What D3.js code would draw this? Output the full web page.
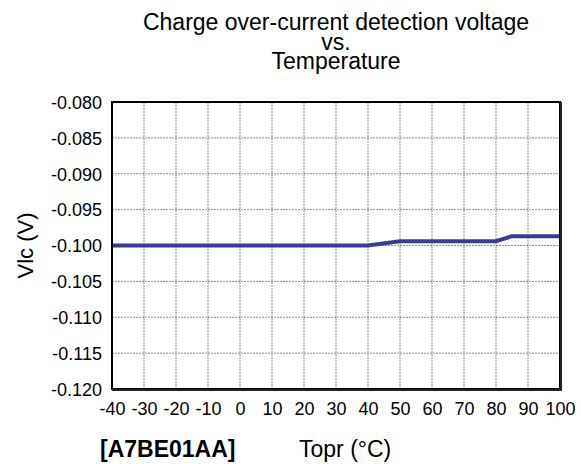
<!DOCTYPE html>
<html lang="en">
<head>
    <meta charset="utf-8">
    <script src="https://d3js.org/d3.v7.min.js"></script>
    <style>
        body { margin: 0; background: #fff; }
        text { font-family: "Liberation Sans", Arial, sans-serif; fill: #000; }
        .grid line { stroke: #8c8c8c; stroke-width: 1; stroke-dasharray: 2,1; }
    </style>
</head>
<body>
<svg width="581" height="464"></svg>
<script>

// data
var temps = [-40, -30, -20, -10, 0, 10, 20, 30, 40, 50, 60, 70, 80, 85, 90, 100];
var vlc   = [-0.1000, -0.1000, -0.1000, -0.1000, -0.1000, -0.1000, -0.1000, -0.1000, -0.1000,
             -0.0994, -0.0994, -0.0994, -0.0994, -0.0987, -0.0987, -0.0987];

var xTicks = [-40, -30, -20, -10, 0, 10, 20, 30, 40, 50, 60, 70, 80, 90, 100];
var yTicks = [-0.080, -0.085, -0.090, -0.095, -0.100, -0.105, -0.110, -0.115, -0.120];

var titleLines = ["Charge over-current detection voltage", "vs.", "Temperature"];

var svg = d3.select("svg"),
    margin = {left: 112, right: 21, top: 102, bottom: 75},
    width = +svg.attr("width") - margin.left - margin.right,
    height = +svg.attr("height") - margin.top - margin.bottom;

var x = d3.scaleLinear().domain([-40, 100]).range([0, width]);
var y = d3.scaleLinear().domain([-0.120, -0.080]).range([height, 0]);

// plain hyphen instead of d3's unicode minus
var fmtX = function(d) { return d3.format("d")(d).replace("\u2212", "-"); };
var fmtY = function(d) { return d3.format(".3f")(d).replace("\u2212", "-"); };

var g = svg.append("g").attr("transform", "translate(" + margin.left + "," + margin.top + ")");

// dashed grid
var grid = g.append("g").attr("class", "grid");
grid.selectAll(".vx").data(xTicks.slice(1, -1)).enter().append("line")
    .attr("x1", function(d) { return x(d); }).attr("x2", function(d) { return x(d); })
    .attr("y1", 0).attr("y2", height);
grid.selectAll(".hy").data(yTicks.slice(1, -1)).enter().append("line")
    .attr("x1", 0).attr("x2", width)
    .attr("y1", function(d) { return y(d); }).attr("y2", function(d) { return y(d); });

// the curve
var line = d3.line()
    .x(function(d, i) { return x(temps[i]); })
    .y(function(d) { return y(d); });

g.append("path")
    .datum(vlc)
    .attr("d", line)
    .attr("fill", "none")
    .attr("stroke", "#3a3a98")
    .attr("stroke-width", 4);

// frame, right/bottom edges a bit heavier
g.append("rect")
    .attr("width", width).attr("height", height)
    .attr("fill", "none").attr("stroke", "#000").attr("stroke-width", 2);
g.append("path")
    .attr("d", "M" + (width + 1) + ",0V" + (height + 1) + "H0")
    .attr("fill", "none").attr("stroke", "#222").attr("stroke-width", 2);

// axes (labels only, frame already drawn)
var xAxis = g.append("g")
    .attr("transform", "translate(0," + height + ")")
    .call(d3.axisBottom(x).tickValues(xTicks).tickSize(0).tickPadding(13).tickFormat(fmtX));
var yAxis = g.append("g")
    .call(d3.axisLeft(y).tickValues(yTicks).tickSize(0).tickPadding(10).tickFormat(fmtY));

[xAxis, yAxis].forEach(function(a) {
    a.select(".domain").remove();
    a.selectAll("text").attr("font-family", "Liberation Sans, Arial, sans-serif")
        .style("font-size", "18px").attr("fill", "#000");
});
yAxis.selectAll("text").attr("dy", "0.35em");

// title
svg.append("text")
    .attr("x", margin.left + width / 2)
    .attr("text-anchor", "middle")
    .style("font-size", "23px")
    .selectAll("tspan").data(titleLines).enter().append("tspan")
    .attr("x", margin.left + width / 2)
    .attr("y", function(d, i) { return 30 + i * 19.5; })
    .text(function(d) { return d; });

// axis titles
svg.append("text")
    .attr("transform", "translate(33," + (margin.top + height / 2) + ") rotate(-90)")
    .attr("text-anchor", "middle")
    .style("font-size", "22px")
    .text("Vlc (V)");

svg.append("text")
    .attr("x", 100).attr("y", 457)
    .style("font-size", "23px").style("font-weight", "bold")
    .text("[A7BE01AA]");

svg.append("text")
    .attr("x", 299).attr("y", 457)
    .style("font-size", "23px")
    .text("Topr (°C)");

</script>
</body>
</html>
